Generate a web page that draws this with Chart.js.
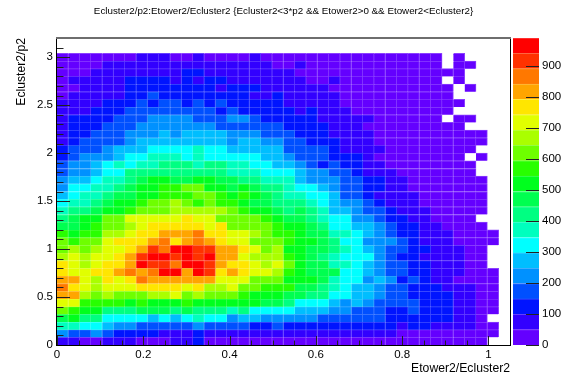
<!DOCTYPE html>
<html>
<head>
<meta charset="utf-8">
<script src="https://cdn.jsdelivr.net/npm/chart.js@4/dist/chart.umd.min.js"></script>
<style>
    html, body { margin: 0; padding: 0; background: #fff; }
    #plot { position: absolute; left: 0; top: 0; }
    #bar { position: absolute; left: 510px; top: 0; }
</style>
</head>
<body>
<canvas id="plot" width="567" height="384"></canvas>
<canvas id="bar" width="57" height="384"></canvas>
<script>
const __ = null; // empty bin

// bin counts, top row first, left to right
const row37 = [25,25,25,25,25,25,25,75,75,75,25,25,75,25,25,25,25,75,25,25,25,25,25,25,25,25,25,25,25,25,25,25,25,25,__,25];
const row36 = [25,25,25,25,75,75,75,75,75,75,75,75,75,75,75,75,75,75,75,25,25,75,25,25,25,25,25,25,25,25,25,25,25,25,__,25,25];
const row35 = [25,25,25,75,75,75,75,75,75,75,75,125,125,75,75,75,75,75,75,75,75,25,25,25,25,25,25,25,25,25,25,25,25,25,25,25];
const row34 = [25,75,75,75,75,75,125,125,125,125,75,125,75,125,125,75,75,75,75,75,75,75,25,25,75,25,25,25,25,25,25,25,25,25,__,25];
const row33 = [25,25,75,75,75,75,125,125,125,125,125,125,125,125,75,125,125,125,75,75,75,75,75,75,25,25,25,25,25,25,25,25,25,25,25,__,25];
const row32 = [25,75,75,75,75,75,125,125,175,125,125,125,125,125,125,125,125,75,75,125,75,75,75,75,75,25,25,25,25,25,25,25,25,25,25];
const row31 = [75,75,75,75,125,125,125,175,125,175,175,125,175,125,175,125,125,125,125,125,75,75,75,75,75,25,25,25,25,25,25,25,25,25,25,25];
const row30 = [75,75,75,125,125,125,175,175,175,175,175,175,175,175,125,175,125,125,125,125,125,75,125,75,75,75,25,25,25,25,25,25,25,25,25];
const row29 = [75,125,125,125,125,175,175,175,225,225,225,225,175,175,175,225,225,175,125,125,125,125,125,75,75,75,75,75,25,25,25,25,25,25,__,25,25];
const row28 = [75,125,125,125,175,175,175,225,225,225,225,225,225,225,175,175,175,175,175,175,125,125,125,125,75,75,75,25,25,25,25,25,25,25,25,25];
const row27 = [75,125,125,175,175,175,225,225,225,275,225,275,275,275,275,225,225,225,175,175,175,125,125,125,75,75,75,75,25,25,25,25,25,25,25,25,25,25];
const row26 = [75,125,175,175,175,175,225,275,275,275,275,275,275,275,275,225,275,275,225,225,175,175,125,125,125,75,75,75,25,25,25,25,25,25,25,25,25,25];
const row25 = [125,175,175,175,225,275,275,275,325,325,325,325,375,325,325,275,275,275,275,275,175,175,175,175,125,75,75,75,75,25,25,25,25,25,25,25,25];
const row24 = [125,175,225,225,225,275,325,325,375,375,375,325,375,325,325,325,325,325,275,275,225,175,175,175,125,125,125,75,25,25,25,25,25,25,25,25,__,25];
const row23 = [175,225,225,275,325,375,325,375,375,425,425,425,375,425,425,375,375,325,325,275,275,225,175,125,175,125,125,75,75,25,25,25,25,25,25,25,25];
const row22 = [175,225,225,275,325,325,425,425,425,425,425,425,425,425,425,375,375,375,325,325,325,275,225,225,175,175,125,75,75,75,25,25,25,25,25,25,25];
const row21 = [225,275,275,325,375,375,425,470,520,520,470,470,520,520,470,470,425,425,375,375,375,275,225,225,225,175,175,125,125,75,75,25,25,25,25,25,25,25];
const row20 = [225,325,325,375,375,425,470,520,520,570,570,620,620,520,520,470,520,470,425,425,375,325,325,275,225,175,175,125,125,75,75,25,25,25,25,25,25,25];
const row19 = [275,325,375,375,425,470,470,520,520,570,570,570,620,620,570,520,570,520,470,425,375,375,325,325,275,175,175,125,75,75,75,75,25,25,25,25,25,25];
const row18 = [325,375,375,425,470,520,520,570,620,620,670,620,570,620,570,570,520,470,470,425,425,425,375,325,275,225,225,175,125,75,75,75,25,25,25,25,25,25];
const row17 = [375,425,425,470,520,520,570,620,620,620,670,670,670,670,670,620,570,520,520,470,425,470,425,375,275,275,225,175,175,125,75,75,75,25,25,25,25,25];
const row16 = [425,470,520,520,620,620,720,720,720,720,720,770,720,720,620,620,620,620,570,520,470,470,425,375,325,325,225,225,175,125,125,75,75,25,25,25,25];
const row15 = [470,470,520,570,620,620,670,720,770,770,770,770,770,720,770,620,620,620,620,570,520,520,470,425,325,325,275,275,225,175,125,125,75,75,25,25,25,25];
const row14 = [570,520,570,570,670,670,720,770,770,815,815,815,865,770,770,720,720,670,620,570,570,520,470,470,375,375,325,275,225,175,125,125,75,75,75,25,25,25,25];
const row13 = [620,570,620,620,720,770,770,770,815,865,770,815,865,815,770,720,720,620,620,620,570,520,520,470,425,325,325,225,225,225,175,125,75,75,75,25,25,25,25];
const row12 = [620,670,620,670,720,720,770,815,915,865,965,965,915,915,815,815,770,720,620,670,520,520,470,470,425,375,325,275,225,175,175,125,125,75,75,75,25,25];
const row11 = [670,720,670,720,720,770,815,915,965,965,915,965,915,965,815,815,720,670,670,670,570,520,470,425,375,325,325,325,225,175,125,125,75,75,75,75,25,25];
const row10 = [770,720,670,720,770,770,815,965,915,915,865,965,965,915,815,770,770,720,670,720,620,520,470,470,375,375,325,275,225,175,175,125,125,75,75,75,25,25];
const row09 = [770,720,720,770,770,815,865,815,865,965,965,815,965,915,770,815,770,720,720,670,570,520,470,470,470,325,325,275,225,175,175,125,125,75,75,75,25,25,25];
const row08 = [815,815,720,670,770,720,770,865,815,815,815,815,815,815,720,720,720,620,620,620,520,520,520,470,375,325,325,225,275,225,125,175,125,75,75,25,25,25,25];
const row07 = [865,770,720,670,720,720,720,770,770,770,770,720,770,670,670,720,620,620,570,570,570,470,470,425,375,325,275,275,225,175,175,125,125,125,75,75,75,25,25];
const row06 = [815,815,670,620,670,620,620,620,670,670,720,620,670,620,620,620,570,520,520,520,470,470,425,425,325,325,275,275,225,175,175,125,125,125,125,75,75,25,25];
const row05 = [720,720,570,570,570,570,520,570,520,520,520,570,520,520,520,520,520,520,470,470,425,325,325,325,275,225,275,225,175,175,175,175,125,125,125,75,75,25,25];
const row04 = [620,570,520,520,425,425,425,470,470,470,425,470,425,425,425,375,425,325,325,325,325,275,275,275,225,225,175,175,175,125,125,175,125,125,125,75,75,25,25];
const row03 = [470,520,425,425,325,325,325,325,275,325,275,325,375,325,325,225,275,275,225,225,225,225,225,175,175,175,175,175,175,125,125,125,125,125,125,75,75,25];
const row02 = [375,375,325,325,275,225,225,175,175,175,175,175,225,175,175,175,175,125,125,175,125,125,125,125,125,125,125,125,125,125,75,125,125,75,75,75,75,25,25];
const row01 = [225,175,175,225,175,125,125,125,125,75,75,75,125,75,75,75,75,75,75,75,75,75,75,75,75,75,75,75,75,75,25,25,25,25,25,25,25,25,25];
const row00 = [75,75,25,25,75,75,75,25,25,25,75,75,125,25,25,25,25,25,25,25,25,25,25,25,25,25,25,25,25,25,25,25,25,25,25,25,25,25];

const rows = [row00,row01,row02,row03,row04,row05,row06,row07,row08,row09,
    row10,row11,row12,row13,row14,row15,row16,row17,row18,row19,
    row20,row21,row22,row23,row24,row25,row26,row27,row28,row29,
    row30,row31,row32,row33,row34,row35,row36,row37];

const chartTitle = 'Ecluster2/p2:Etower2/Ecluster2 {Ecluster2<3*p2 && Etower2>0 && Etower2<Ecluster2}';

const xMax = 1.05;
const yMax = 3.2;
const binX = xMax / 40;
const binY = yMax / 40;
const zMax = 990;
const levelStep = zMax / 20;

// palette, lowest contour first, with the paler colour of the seam between bins
const palette = [
    [100,0,255],[50,0,255],[0,20,255],[0,80,255],[0,145,255],
    [0,190,255],[0,255,255],[0,255,190],[0,255,130],[0,255,80],
    [0,255,30],[40,255,0],[110,255,0],[170,255,0],[225,255,0],
    [255,230,0],[255,165,0],[255,120,0],[255,50,0],[255,0,0]
];
const rgb = c => `rgb(${c[0]},${c[1]},${c[2]})`;
const pale = c => rgb(c.map(v => Math.round(v + (255 - v) * 0.25)));

const xMajor = [0, 0.2, 0.4, 0.6, 0.8, 1];
const xMinor = [0.05,0.1,0.15,0.25,0.3,0.35,0.45,0.5,0.55,0.65,0.7,0.75,0.85,0.9,0.95,1.05];
const yMajor = [0, 0.5, 1, 1.5, 2, 2.5, 3];
const yMinor = [0.1,0.2,0.3,0.4,0.6,0.7,0.8,0.9,1.1,1.2,1.3,1.4,1.6,1.7,1.8,1.9,2.1,2.2,2.3,2.4,2.6,2.7,2.8,2.9,3.1,3.2];
const zMajor = [0,100,200,300,400,500,600,700,800,900];

const cells = [];
const fills = [];
const seams = [];
rows.forEach((row, r) => {
    row.forEach((count, c) => {
        if (count === null) return;
        cells.push({ x: (c + 0.5) * binX, y: [r * binY, (r + 1) * binY] });
        const lvl = Math.min(19, Math.floor(count / levelStep));
        fills.push(rgb(palette[lvl]));
        seams.push(pale(palette[lvl]));
    });
});

const useTicks = list => s => { s.ticks = list.map(v => ({ value: v })); };
const tickFont = { family: 'Liberation Sans', size: 11.5 };

const plotFrame = {
    id: 'plotFrame',
    afterDatasetsDraw(chart) {
        const { ctx, chartArea: a, scales: { x, y } } = chart;
        ctx.save();
        ctx.strokeStyle = '#222';
        ctx.lineWidth = 1;
        ctx.beginPath();
        const tickX = (list, len) => list.forEach(v => {
            const p = Math.round(x.getPixelForValue(v)) + 0.5;
            ctx.moveTo(p, a.bottom);
            ctx.lineTo(p, a.bottom - len);
        });
        const tickY = (list, len) => list.forEach(v => {
            const p = Math.round(y.getPixelForValue(v)) + 0.5;
            ctx.moveTo(a.left, p);
            ctx.lineTo(a.left + len, p);
        });
        tickX(xMajor, 9);
        tickX(xMinor, 4.5);
        tickY(yMajor, 13);
        tickY(yMinor, 6.5);
        ctx.stroke();
        ctx.strokeStyle = '#000';
        ctx.strokeRect(a.left - 0.5, a.top + 0.5, a.right - a.left + 1, a.bottom - a.top);
        ctx.fillStyle = '#6e6e6e';
        ctx.fillRect(a.left - 1, a.top - 1, a.right - a.left + 2, 2);
        ctx.restore();
    }
};

new Chart(document.getElementById('plot'), {
    type: 'bar',
    data: {
        datasets: [{
            data: cells,
            backgroundColor: fills,
            borderColor: seams,
            borderWidth: { top: 1, right: 1, bottom: 0, left: 0 },
            borderSkipped: false,
            barPercentage: 1,
            categoryPercentage: 1
        }]
    },
    plugins: [plotFrame],
    options: {
        responsive: false,
        animation: false,
        events: [],
        plugins: {
            legend: { display: false },
            tooltip: { enabled: false },
            title: {
                display: true,
                text: chartTitle,
                color: '#000',
                font: { family: 'Liberation Sans', size: 9.8, weight: 'normal' },
                padding: { top: 5, bottom: 21.24 }
            }
        },
        scales: {
            x: {
                type: 'linear',
                offset: false,
                min: 0,
                max: xMax,
                grid: { display: false, drawTicks: false },
                border: { display: false },
                afterBuildTicks: useTicks(xMajor),
                ticks: {
                    callback: v => String(v),
                    maxRotation: 0,
                    padding: 3,
                    color: '#000',
                    font: tickFont
                },
                title: {
                    display: true,
                    text: 'Etower2/Ecluster2',
                    align: 'end',
                    color: '#000',
                    font: { family: 'Liberation Sans', size: 12.2 },
                    padding: { top: 0, bottom: 8 }
                },
                afterFit(s) { s.height = 39; }
            },
            y: {
                min: 0,
                max: yMax,
                grid: { display: false, drawTicks: false },
                border: { display: false },
                afterBuildTicks: useTicks(yMajor),
                ticks: {
                    callback: v => String(v),
                    padding: 4,
                    color: '#000',
                    font: tickFont
                },
                title: {
                    display: true,
                    text: 'Ecluster2/p2',
                    align: 'end',
                    color: '#000',
                    font: { family: 'Liberation Sans', size: 12.2 },
                    padding: { top: 14, bottom: 0 }
                },
                afterFit(s) { s.width = 57; }
            },
            // empty axis that keeps the room for the colour bar canvas
            side: {
                axis: 'y',
                position: 'right',
                grid: { display: false, drawTicks: false },
                border: { display: false },
                ticks: { display: false },
                afterFit(s) { s.width = 57; }
            }
        }
    }
});

// colour bar: one floating bar per contour, on its own value axis
const barTicks = {
    id: 'barTicks',
    afterDatasetsDraw(chart) {
        const { ctx, chartArea: a, scales: { y } } = chart;
        ctx.save();
        ctx.strokeStyle = '#222';
        ctx.lineWidth = 1;
        ctx.beginPath();
        zMajor.forEach(v => {
            const p = Math.round(y.getPixelForValue(v)) + 0.5;
            ctx.moveTo(a.right, p);
            ctx.lineTo(a.right - 13, p);
        });
        ctx.stroke();
        ctx.restore();
    }
};

new Chart(document.getElementById('bar'), {
    type: 'bar',
    data: {
        labels: ['z'],
        datasets: palette.map((c, i) => ({
            data: [[i * levelStep, (i + 1) * levelStep]],
            backgroundColor: rgb(c),
            borderColor: pale(c),
            borderWidth: { top: 1, right: 0, bottom: 0, left: 0 },
            borderSkipped: false,
            grouped: false,
            barPercentage: 1,
            categoryPercentage: 1
        }))
    },
    plugins: [barTicks],
    options: {
        responsive: false,
        animation: false,
        events: [],
        layout: { padding: { top: 38, bottom: 39, left: 3 } },
        plugins: { legend: { display: false }, tooltip: { enabled: false }, title: { display: false } },
        scales: {
            x: { display: false },
            y: {
                position: 'right',
                min: 0,
                max: zMax,
                grid: { display: false, drawTicks: false },
                border: { display: false },
                afterBuildTicks: useTicks(zMajor),
                ticks: {
                    callback: v => String(v),
                    padding: 3,
                    color: '#000',
                    font: tickFont
                },
                afterFit(s) { s.width = 28; }
            }
        }
    }
});
</script>
</body>
</html>
